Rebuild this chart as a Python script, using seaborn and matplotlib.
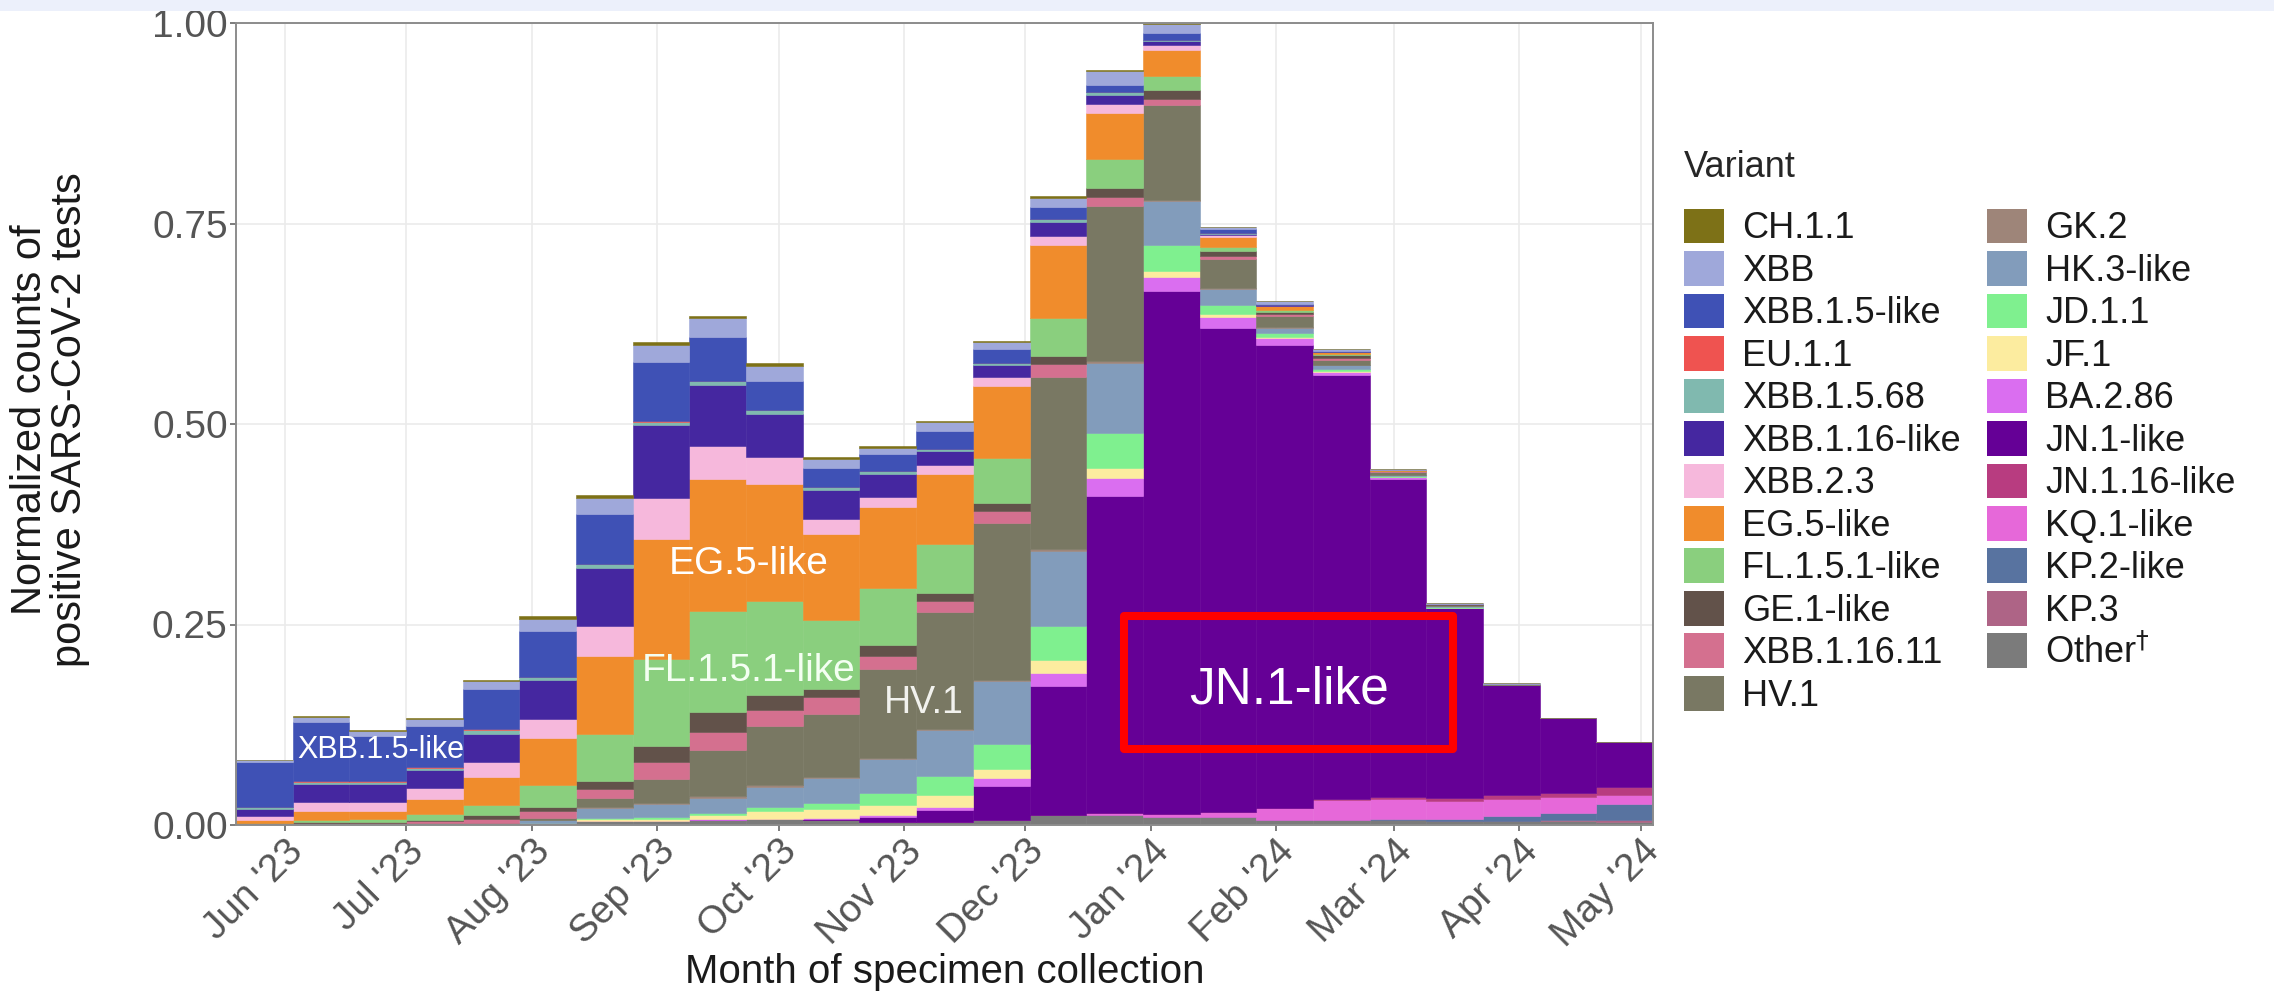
import matplotlib
matplotlib.use("Agg")
import matplotlib.pyplot as plt
import matplotlib.transforms as mtransforms
import pandas as pd
import seaborn as sns
from matplotlib.patches import Rectangle

# --- Data ---
# two-week periods, ending on these Saturdays
period_end = [
    "2023-06-03", "2023-06-17", "2023-07-01", "2023-07-15", "2023-07-29",
    "2023-08-12", "2023-08-26", "2023-09-09", "2023-09-23", "2023-10-07",
    "2023-10-21", "2023-11-04", "2023-11-18", "2023-12-02", "2023-12-16",
    "2023-12-30", "2024-01-13", "2024-01-27", "2024-02-10", "2024-02-24",
    "2024-03-09", "2024-03-23", "2024-04-06", "2024-04-20", "2024-05-04",
]

variants = [
    "CH.1.1", "XBB", "XBB.1.5-like", "EU.1.1", "XBB.1.5.68", "XBB.1.16-like",
    "XBB.2.3", "EG.5-like", "FL.1.5.1-like", "GE.1-like", "XBB.1.16.11", "HV.1",
    "GK.2", "HK.3-like", "JD.1.1", "JF.1", "BA.2.86", "JN.1-like",
    "JN.1.16-like", "KQ.1-like", "KP.2-like", "KP.3", "Other",
]

variant_colors = [
    "#7d7117", "#9fa8da", "#3f51b5", "#ef5350", "#80b9af", "#4527a0",
    "#f6b8dc", "#f08c2c", "#8acf7e", "#62524a", "#d4708f", "#797863",
    "#9e8579", "#829cbb", "#7ff08f", "#fcec9f", "#da6ef0", "#650096",
    "#b83c80", "#e668d9", "#5873a0", "#ae6486", "#7b7b7b",
]

ch_1_1 = [0, .001, .001, .001, .002, .003, .003, .003, .003, .004, .003, .002, .002,
          .002, .002, .001, .001, 0, 0, 0, 0, 0, 0, 0, 0]
xbb = [.003, .007, .006, .009, .010, .015, .020, .022, .024, .019, .011, .008, .011,
       .009, .011, .017, .012, .003, .003, .003, .001, .001, .001, 0, 0]
xbb_1_5 = [.055, .073, .056, .051, .049, .057, .062, .073, .054, .035, .024, .021, .022,
           .017, .016, .009, .008, .005, .002, .001, 0, 0, 0, 0, 0]
eu_1_1 = [.001, .001, .001, .001, .001, .001, .001, .001, 0, 0, 0, 0, 0,
          0, 0, 0, 0, 0, 0, 0, 0, 0, 0, 0, 0]
xbb_1_5_68 = [.002, .003, .003, .002, .005, .003, .004, .004, .005, .005, .003, .003, .003,
              .003, .003, .004, .002, .001, 0, 0, 0, 0, 0, 0, 0]
xbb_1_16 = [.009, .022, .022, .023, .036, .049, .073, .091, .076, .054, .036, .029, .017,
            .015, .017, .011, .005, .001, .001, 0, 0, 0, 0, 0, 0]
xbb_2_3 = [.005, .011, .012, .014, .018, .024, .037, .051, .042, .034, .019, .013, .011,
           .011, .012, .011, .006, .003, 0, 0, 0, 0, 0, 0, 0]
eg_5 = [.003, .012, .010, .018, .035, .058, .097, .150, .164, .146, .108, .100, .088,
        .089, .091, .058, .032, .012, .005, .003, .001, .001, 0, 0, 0]
fl_1_5_1 = [.001, .002, .003, .008, .013, .028, .059, .108, .126, .117, .086, .072, .061,
            .057, .047, .036, .017, .005, .002, .001, 0, 0, 0, 0, 0]
ge_1 = [0, .001, .001, .001, .004, .004, .010, .020, .025, .019, .010, .013, .010,
        .010, .010, .011, .012, .007, .003, .004, .001, .001, 0, 0, 0]
xbb_1_16_11 = [.001, .001, .002, .003, .005, .009, .011, .022, .023, .019, .021, .017, .014,
               .015, .016, .011, .007, .003, .002, .002, .001, 0, 0, 0, 0]
hv_1 = [0, 0, 0, 0, .001, .003, .012, .029, .057, .074, .078, .110, .145,
        .195, .215, .194, .119, .037, .014, .006, .003, .001, .001, 0, 0]
gk_2 = [0, 0, 0, 0, 0, 0, .001, .002, .002, .002, .002, .002, .002,
        .002, .002, .002, .001, .001, .001, .001, 0, 0, 0, 0, 0]
hk_3 = [0, 0, 0, 0, 0, .003, .012, .016, .019, .025, .031, .042, .057,
        .078, .094, .087, .055, .020, .007, .004, .002, .001, 0, 0, 0]
jd_1_1 = [0, 0, 0, 0, 0, .001, .002, .002, .003, .006, .007, .015, .023,
          .031, .042, .044, .032, .011, .005, .003, .001, .001, 0, 0, 0]
jf_1 = [0, 0, 0, 0, 0, 0, .002, .003, .005, .009, .011, .013, .015,
        .012, .016, .012, .008, .004, .001, .001, 0, 0, 0, 0, 0]
ba_2_86 = [0, 0, 0, 0, 0, 0, 0, 0, .001, .001, .001, .002, .004,
           .009, .017, .023, .017, .013, .008, .004, .002, .001, .001, 0, 0]
jn_1 = [0, 0, 0, 0, 0, 0, 0, 0, 0, 0, .002, .006, .015,
        .043, .161, .395, .652, .604, .578, .528, .397, .236, .137, .094, .056]
jn_1_16 = [0, 0, 0, 0, 0, 0, 0, 0, 0, 0, 0, 0, 0,
           0, 0, 0, 0, 0, 0, .002, .003, .004, .005, .005, .010]
kq_1 = [0, 0, 0, 0, 0, 0, 0, 0, 0, 0, 0, 0, 0,
        0, 0, .002, .004, .006, .015, .025, .025, .022, .021, .020, .012]
kp_2 = [0, 0, 0, 0, 0, 0, 0, 0, 0, 0, 0, 0, 0,
        0, 0, 0, 0, 0, 0, 0, .001, .003, .006, .009, .020]
kp_3 = [0, 0, 0, 0, 0, 0, 0, 0, 0, 0, 0, 0, 0,
        0, 0, 0, 0, 0, 0, 0, 0, 0, 0, .001, .002]
other = [.001, .002, .001, .002, .002, .002, .005, .005, .006, .007, .006, .004, .004,
         .006, .012, .013, .010, .010, .006, .006, .006, .005, .005, .005, .004]

series = dict(zip(variants, [
    ch_1_1, xbb, xbb_1_5, eu_1_1, xbb_1_5_68, xbb_1_16, xbb_2_3, eg_5, fl_1_5_1,
    ge_1, xbb_1_16_11, hv_1, gk_2, hk_3, jd_1_1, jf_1, ba_2_86, jn_1, jn_1_16,
    kq_1, kp_2, kp_3, other,
]))

# --- Long table: one row per variant and period ---
start = pd.Timestamp("2023-05-20")
ends = pd.to_datetime(period_end)
end_day = list((ends - start).days)
bin_edges = [end_day[0] - 14] + end_day
centre = [e - 7 for e in end_day]

rows = []
for v in variants:
    for d, val in zip(centre, series[v]):
        rows.append((d, v, val))
df = pd.DataFrame(rows, columns=["day", "variant", "value"])

months = pd.date_range("2023-06-01", "2024-05-01", freq="MS")
month_ticks = list((months - start).days)
month_labels = [m.strftime("%b '%y") for m in months]

# --- Plot ---
sns.set_style("white")
plt.rcParams["font.family"] = ["Liberation Sans", "DejaVu Sans"]

W, H = 2274, 991
fig = plt.figure(figsize=(W / 100, H / 100), dpi=100)
ax = fig.add_axes([236 / W, 1 - 825 / H, 1417 / W, 802 / H])

sns.histplot(
    data=df, x="day", weights="value", hue="variant", hue_order=variants,
    palette=dict(zip(variants, variant_colors)), multiple="stack",
    bins=bin_edges, alpha=1, linewidth=0, ax=ax,
)
# close hairline gaps between stacked pieces
for p in ax.patches:
    p.set_edgecolor(p.get_facecolor())
    p.set_linewidth(0.4)

ax.set_xlim(bin_edges[0], bin_edges[-1])
ax.set_ylim(0, 1)
ax.set_yticks([0, 0.25, 0.5, 0.75, 1.0])
ax.set_yticklabels(["0.00", "0.25", "0.50", "0.75", "1.00"])
ax.set_xticks(month_ticks)
ax.set_xticklabels(month_labels, rotation=45, ha="right", va="top",
                   rotation_mode="anchor")
shift = mtransforms.ScaledTranslation(16 / 100, -14 / 100, fig.dpi_scale_trans)
for lab in ax.get_xticklabels():
    lab.set_transform(lab.get_transform() + shift)

ax.grid(True, color="#ebebeb", linewidth=1.2)
ax.set_axisbelow(True)
for sp in ax.spines.values():
    sp.set_visible(True)
    sp.set_color("#8c8c8c")
    sp.set_linewidth(1.4)
ax.tick_params(axis="both", length=4, width=1.2, color="#666666",
               labelcolor="#555555", labelsize=28, pad=2, bottom=True, left=True)

ax.set_xlabel("Month of specimen collection", fontsize=29, color="#1a1a1a")
ax.set_ylabel("Normalized counts of\npositive SARS-CoV-2 tests", fontsize=30,
              color="#1a1a1a", linespacing=1.0)
ax.xaxis.set_label_coords(0.5, -0.16)
ax.yaxis.set_label_coords(-0.103, 0.505)

# in-chart labels
ax.text(35.7, 0.083, "XBB.1.5-like", color="white", fontsize=22, ha="center", va="baseline")
ax.text(126.7, 0.313, "EG.5-like", color="white", fontsize=28, ha="center", va="baseline")
ax.text(126.7, 0.179, "FL.1.5.1-like", color="#f4fff2", fontsize=28, ha="center", va="baseline")
ax.text(170.0, 0.140, "HV.1", color="#f2f2ee", fontsize=27, ha="center", va="baseline")
ax.text(260.2, 0.152, "JN.1-like", color="white", fontsize=37, ha="center", va="baseline")
ax.add_patch(Rectangle((219.3, 0.095), 81.2, 0.261 - 0.095, fill=False,
                       edgecolor="#ff0000", linewidth=5.8, joinstyle="round", zorder=5))

# legend, two columns like the reference
old = ax.get_legend()
handles = old.legend_handles
labels = [t.get_text() for t in old.get_texts()]
old.remove()
labels[-1] = "Other$^{\\dagger}$"
leg = ax.legend(
    handles, labels, title="Variant", ncol=2, loc="upper left",
    bbox_to_anchor=(1684 / W, 1 - 150 / H), bbox_transform=fig.transFigure,
    frameon=False, fontsize=26, title_fontsize=26, alignment="left",
    handlelength=1.1, handleheight=1.1, labelspacing=0.135,
    handletextpad=0.5, columnspacing=0.75, borderpad=0, borderaxespad=0,
)
leg._legend_box.sep = 17
for t in leg.get_texts():
    t.set_color("#1a1a1a")

# light band along the top edge of the screenshot
fig.add_artist(Rectangle((0, 1 - 11 / H), 1, 11 / H, transform=fig.transFigure,
                         facecolor="#ecf0fb", edgecolor="none"))

fig.savefig("out.png", dpi=100, facecolor="white")
